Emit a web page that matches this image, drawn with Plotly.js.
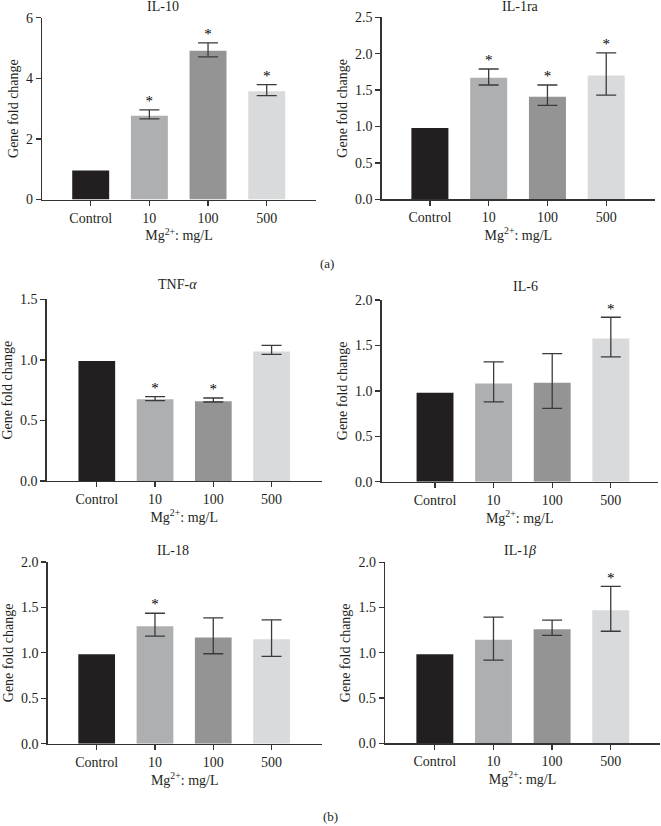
<!DOCTYPE html>
<html>
<head>
<meta charset="utf-8">
<script src="https://cdn.plot.ly/plotly-3.0.1.min.js"></script>
<style>
  body { margin: 0; background: #fff; }
  #chart { width: 661px; height: 826px; }
</style>
</head>
<body>
<div id="chart"></div>
<script>
// Categories (Mg2+ concentration, mg/L)
const categories = ['Control', '10', '100', '500'];
const barColors = ['#231f20', '#aeafb1', '#949495', '#d9dadb'];

// Gene fold change, error above / below, significance flags
const il10 = [0.96, 2.76, 4.91, 3.57];
const il10Plus = [null, 0.20, 0.26, 0.22];
const il10Minus = [null, 0.10, 0.20, 0.14];
const il10Sig = [0, 1, 1, 1];

const il1ra = [0.98, 1.67, 1.41, 1.70];
const il1raPlus = [null, 0.12, 0.16, 0.31];
const il1raMinus = [null, 0.10, 0.12, 0.27];
const il1raSig = [0, 1, 1, 1];

const tnf = [0.99, 0.675, 0.658, 1.07];
const tnfPlus = [null, 0.021, 0.027, 0.05];
const tnfMinus = [null, 0.012, 0.006, 0.024];
const tnfSig = [0, 1, 1, 0];

const il6 = [0.98, 1.08, 1.09, 1.575];
const il6Plus = [null, 0.238, 0.32, 0.235];
const il6Minus = [null, 0.202, 0.282, 0.202];
const il6Sig = [0, 0, 0, 1];

const il18 = [0.985, 1.293, 1.17, 1.15];
const il18Plus = [null, 0.143, 0.214, 0.212];
const il18Minus = [null, 0.11, 0.18, 0.188];
const il18Sig = [0, 1, 0, 0];

const il1b = [0.983, 1.145, 1.26, 1.47];
const il1bPlus = [null, 0.25, 0.10, 0.265];
const il1bMinus = [null, 0.225, 0.067, 0.232];
const il1bSig = [0, 0, 0, 1];

const W = 661, H = 826;
const FONT = 'Liberation Serif, Times New Roman, serif';
const INK = '#231f20';

// panel boxes in pixels: left, right, top, bottom
const panels = [
    { name: 'IL-10', v: il10, p: il10Plus, m: il10Minus, s: il10Sig, box: [42, 316, 17.7, 199.5], xr: [-0.83, 3.84], ymax: 6, dtick: 2, fmt: 'd', tx: 163, ty: 7 },
    { name: 'IL-1ra', v: il1ra, p: il1raPlus, m: il1raMinus, s: il1raSig, box: [381.7, 655, 17.3, 199.3], xr: [-0.82, 3.83], ymax: 2.5, dtick: 0.5, fmt: '.1f', tx: 520, ty: 7 },
    { name: 'TNF-<i>α</i>', v: tnf, p: tnfPlus, m: tnfMinus, s: tnfSig, box: [46.7, 321.7, 299.3, 481], xr: [-0.86, 3.86], ymax: 1.5, dtick: 0.5, fmt: '.1f', tx: 177, ty: 285 },
    { name: 'IL-6', v: il6, p: il6Plus, m: il6Minus, s: il6Sig, box: [381.7, 657.7, 300, 481.7], xr: [-0.91, 3.8], ymax: 2, dtick: 0.5, fmt: '.1f', tx: 525, ty: 287 },
    { name: 'IL-18', v: il18, p: il18Plus, m: il18Minus, s: il18Sig, box: [47.7, 321.7, 562, 743.7], xr: [-0.84, 3.86], ymax: 2, dtick: 0.5, fmt: '.1f', tx: 173, ty: 550 },
    { name: 'IL-1<i>β</i>', v: il1b, p: il1bPlus, m: il1bMinus, s: il1bSig, box: [385, 660, 562.3, 743.3], xr: [-0.85, 3.84], ymax: 2, dtick: 0.5, fmt: '.1f', tx: 520, ty: 550 }
];

const toNaN = arr => arr.map(d => (d === null ? NaN : d));

const traces = [];
const layout = {
    width: W,
    height: H,
    margin: { l: 0, r: 0, t: 0, b: 0 },
    paper_bgcolor: 'white',
    plot_bgcolor: 'white',
    showlegend: false,
    font: { family: FONT, size: 14, color: INK },
    annotations: []
};

panels.forEach((pn, i) => {
    const k = i === 0 ? '' : String(i + 1);
    const xa = 'x' + k, ya = 'y' + k;
    const [l, r, t, b] = pn.box;

    traces.push({
        type: 'bar',
        x: categories,
        y: pn.v,
        xaxis: xa,
        yaxis: ya,
        width: 0.63,
        marker: { color: barColors, line: { width: 0 } },
        error_y: {
            type: 'data',
            symmetric: false,
            array: toNaN(pn.p),
            arrayminus: toNaN(pn.m),
            color: '#3a3a3a',
            thickness: 1.3,
            width: 10
        },
        hoverinfo: 'skip'
    });

    // significance asterisks above error bars
    const sx = [], sy = [];
    pn.s.forEach((f, j) => {
        if (f) { sx.push(categories[j]); sy.push(pn.v[j] + (pn.p[j] || 0)); }
    });
    traces.push({
        type: 'scatter',
        mode: 'text',
        x: sx,
        y: sy,
        text: sx.map(() => '*'),
        textposition: 'top center',
        textfont: { family: FONT, size: 15, color: '#000' },
        xaxis: xa,
        yaxis: ya,
        hoverinfo: 'skip',
        cliponaxis: false
    });

    layout['xaxis' + k] = {
        domain: [l / W, r / W],
        anchor: ya,
        type: 'category',
        range: pn.xr,
        showline: true,
        linecolor: '#333',
        linewidth: 1.3,
        ticks: 'outside',
        ticklen: 5,
        tickwidth: 1.3,
        tickcolor: '#333',
        showgrid: false,
        zeroline: false,
        tickfont: { family: FONT, size: 14, color: INK },
        title: { text: 'Mg<sup>2+</sup>: mg/L', font: { family: FONT, size: 14, color: INK }, standoff: 4 }
    };
    layout['yaxis' + k] = {
        domain: [1 - b / H, 1 - t / H],
        anchor: xa,
        range: [0, pn.ymax],
        dtick: pn.dtick,
        tickformat: pn.fmt,
        showline: true,
        linecolor: '#333',
        linewidth: 1.3,
        ticks: 'outside',
        ticklen: 5,
        tickwidth: 1.3,
        tickcolor: '#333',
        showgrid: false,
        zeroline: false,
        tickfont: { family: FONT, size: 14, color: INK },
        title: { text: 'Gene fold change', font: { family: FONT, size: 14, color: INK }, standoff: 4 }
    };

    layout.annotations.push({
        text: pn.name,
        xref: 'paper', yref: 'paper',
        x: pn.tx / W, y: 1 - pn.ty / H,
        xanchor: 'center', yanchor: 'middle',
        showarrow: false,
        font: { family: FONT, size: 14, color: INK }
    });
});

// panel letters
[['(a)', 327, 263], ['(b)', 330, 816]].forEach(([txt, px, py]) => {
    layout.annotations.push({
        text: txt,
        xref: 'paper', yref: 'paper',
        x: px / W, y: 1 - py / H,
        xanchor: 'center', yanchor: 'middle',
        showarrow: false,
        font: { family: FONT, size: 13, color: INK }
    });
});

Plotly.newPlot('chart', traces, layout, { staticPlot: true });
</script>
</body>
</html>
